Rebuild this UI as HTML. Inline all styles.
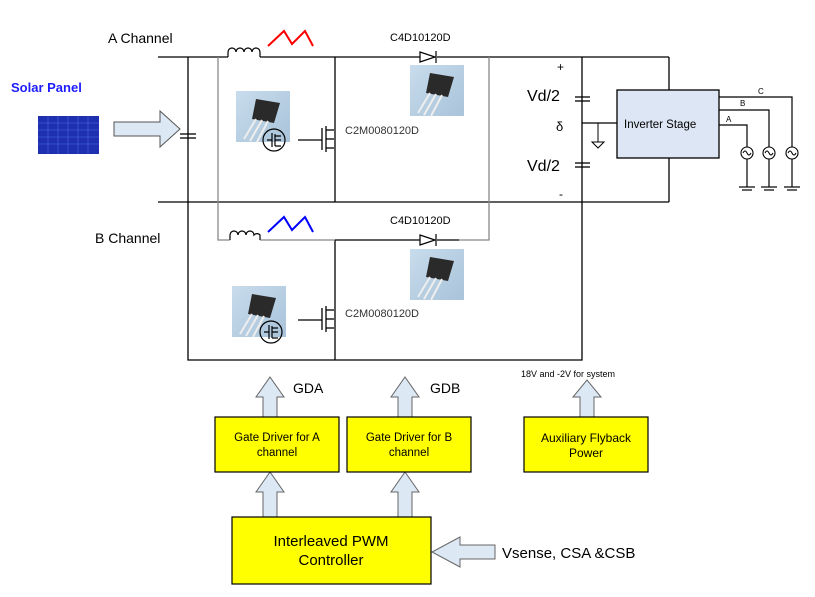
<!DOCTYPE html>
<html><head><meta charset="utf-8"><style>
html,body{margin:0;padding:0;background:#fff;}
svg{display:block;font-family:"Liberation Sans",Arial,sans-serif;}
</style></head><body>
<svg width="815" height="597" viewBox="0 0 815 597" xmlns="http://www.w3.org/2000/svg">
<defs>
<linearGradient id="ig" x1="0" y1="0" x2="1" y2="1"><stop offset="0" stop-color="#c8dcec"/><stop offset="1" stop-color="#a9c3da"/></linearGradient>
<g id="tr">
<rect x="0" y="0" width="54" height="51" fill="url(#ig)"/>
<polygon points="20,8 44,12 38,32 16,28" fill="#2a2a2a"/>
<line x1="20" y1="28" x2="8" y2="48" stroke="#eee" stroke-width="2"/>
<line x1="26" y1="29" x2="14" y2="50" stroke="#eee" stroke-width="2"/>
<line x1="32" y1="30" x2="21" y2="51" stroke="#eee" stroke-width="2"/>
</g>
</defs>
<g stroke="#000" stroke-width="1.3" fill="none">
<line x1="158" y1="57" x2="228" y2="57"/>
<line x1="260" y1="57" x2="420" y2="57"/>
<line x1="437" y1="57" x2="669" y2="57"/>
<line x1="158" y1="202" x2="669" y2="202"/>
<polyline points="188,57 188,360 582,360 582,57"/>
<line x1="335" y1="57" x2="335" y2="202"/>
<line x1="335" y1="240" x2="335" y2="360"/>
<line x1="669" y1="57" x2="669" y2="90"/>
<line x1="669" y1="158" x2="669" y2="202"/>
</g>
<g stroke="#888" stroke-width="1.3" fill="none">
<line x1="218" y1="57" x2="218" y2="202"/>
<polyline points="218,202 218,240 230,240"/>
<line x1="260" y1="240" x2="335" y2="240"/>
<polyline points="459,240 489,240 489,57"/>
</g>
<line x1="335" y1="240" x2="420" y2="240" stroke="#000" stroke-width="1.3"/>
<line x1="437" y1="240" x2="459" y2="240" stroke="#000" stroke-width="1.3"/>
<path d="M228,57 v-5 a4,4 0 0 1 8,0 a4,4 0 0 1 8,0 a4,4 0 0 1 8,0 a4,4 0 0 1 8,0 v5" stroke="#000" fill="none" stroke-width="1.2"/>
<path d="M230,240 v-5 a4,4 0 0 1 8,0 a4,4 0 0 1 8,0 a4,4 0 0 1 8,0 a4,4 0 0 1 6,0 v5" stroke="#000" fill="none" stroke-width="1.2"/>
<polyline points="268,46 284,31 292,44 305,31 313,46" stroke="#f00" stroke-width="2" fill="none"/>
<polyline points="268,232 284,217 292,230 305,217 313,232" stroke="#00f" stroke-width="2" fill="none"/>
<g stroke="#000" stroke-width="1.2" fill="#fff">
<polygon points="420,52 420,62 435,57"/><line x1="436" y1="51" x2="436" y2="63"/>
<polygon points="420,235 420,245 435,240"/><line x1="436" y1="234" x2="436" y2="246"/>
</g>
<g stroke="#000" stroke-width="1.3"><line x1="180" y1="134" x2="196" y2="134"/><line x1="180" y1="138" x2="196" y2="138"/>
<line x1="575" y1="97" x2="590" y2="97"/><line x1="575" y1="101" x2="590" y2="101"/>
<line x1="575" y1="163" x2="590" y2="163"/><line x1="575" y1="167" x2="590" y2="167"/></g>
<g stroke="#000" stroke-width="1.3" fill="none">
<line x1="298" y1="140" x2="322" y2="140"/><line x1="322" y1="128" x2="322" y2="150"/>
<line x1="326" y1="126" x2="326" y2="152"/><line x1="326" y1="130" x2="334" y2="130"/><line x1="326" y1="148" x2="334" y2="148"/><line x1="326" y1="139" x2="334" y2="139"/>
<line x1="298" y1="320" x2="322" y2="320"/><line x1="322" y1="308" x2="322" y2="330"/>
<line x1="326" y1="306" x2="326" y2="332"/><line x1="326" y1="310" x2="334" y2="310"/><line x1="326" y1="328" x2="334" y2="328"/><line x1="326" y1="319" x2="334" y2="319"/>
</g>
<use href="#tr" x="236" y="91"/>
<use href="#tr" x="410" y="65"/>
<use href="#tr" x="232" y="286"/>
<use href="#tr" x="410" y="249"/>
<g stroke="#000" stroke-width="1.2" fill="none">
<circle cx="274" cy="140" r="11"/><path d="M267,140 h5 M272,133 v14 M275,134 v12 M275,136 h6 M275,146 h6 M275,140 h6"/>
<circle cx="271" cy="332" r="11"/><path d="M264,332 h5 M269,325 v14 M272,326 v12 M272,328 h6 M272,338 h6 M272,332 h6"/>
</g>
<rect x="38" y="116" width="61" height="38" fill="#1e2fb0"/>
<g stroke="#4a6ae0" stroke-width="0.6">
<line x1="38" y1="123" x2="99" y2="123"/><line x1="38" y1="130" x2="99" y2="130"/><line x1="38" y1="137" x2="99" y2="137"/><line x1="38" y1="144" x2="99" y2="144"/>
<line x1="48" y1="116" x2="48" y2="154"/><line x1="58" y1="116" x2="58" y2="154"/><line x1="68" y1="116" x2="68" y2="154"/><line x1="78" y1="116" x2="78" y2="154"/><line x1="88" y1="116" x2="88" y2="154"/>
</g>
<polygon points="114,122 160,122 160,111 180,129 160,147 160,136 114,136" fill="#dce8f4" stroke="#555" stroke-width="1"/>
<line x1="582" y1="123" x2="617" y2="123" stroke="#000" stroke-width="1.3"/>
<line x1="598" y1="123" x2="598" y2="142" stroke="#000" stroke-width="1"/>
<polygon points="592,142 604,142 598,148" fill="none" stroke="#000" stroke-width="1"/>
<rect x="617" y="90" width="102" height="68" fill="#dde6f4" stroke="#000" stroke-width="1.3"/>
<g stroke="#000" stroke-width="1.2" fill="none">
<polyline points="719,97 792,97 792,187"/>
<polyline points="719,110 769,110 769,187"/>
<polyline points="719,125 747,125 747,187"/>
<line x1="739" y1="187" x2="755" y2="187"/><line x1="742" y1="190" x2="752" y2="190"/>
<line x1="761" y1="187" x2="777" y2="187"/><line x1="764" y1="190" x2="774" y2="190"/>
<line x1="784" y1="187" x2="800" y2="187"/><line x1="787" y1="190" x2="797" y2="190"/>
</g>
<g stroke="#000" stroke-width="1.1" fill="#fff">
<circle cx="747" cy="153" r="6"/><circle cx="769" cy="153" r="6"/><circle cx="792" cy="153" r="6"/>
</g>
<g stroke="#000" stroke-width="1" fill="none">
<path d="M743,153 q2,-4 4,0 q2,4 4,0"/><path d="M765,153 q2,-4 4,0 q2,4 4,0"/><path d="M788,153 q2,-4 4,0 q2,4 4,0"/>
</g>
<g fill="#000">
<text x="108" y="43" font-size="14">A Channel</text>
<text x="95" y="243" font-size="14">B Channel</text>
<text x="11" y="92" font-size="13" font-weight="bold" fill="#1c1cff">Solar Panel</text>
<text x="390" y="41" font-size="11">C4D10120D</text>
<text x="390" y="224" font-size="11">C4D10120D</text>
<text x="345" y="134" font-size="11" fill="#333">C2M0080120D</text>
<text x="345" y="317" font-size="11" fill="#333">C2M0080120D</text>
<text x="557" y="71" font-size="12">+</text>
<text x="527" y="101" font-size="16">Vd/2</text>
<text x="556" y="131" font-size="13">δ</text>
<text x="527" y="171" font-size="16">Vd/2</text>
<text x="559" y="198" font-size="12">-</text>
<text x="624" y="128" font-size="11.5">Inverter Stage</text>
<text x="758" y="94" font-size="8">C</text>
<text x="740" y="106" font-size="8">B</text>
<text x="726" y="122" font-size="8">A</text>
</g>
<g fill="#dce8f4" stroke="#666" stroke-width="1">
<polygon points="263,417 263,397 256,397 270,377 284,397 277,397 277,417"/>
<polygon points="398,417 398,397 391,397 405,377 419,397 412,397 412,417"/>
<polygon points="580,417 580,397 573,397 587,380 601,397 594,397 594,417"/>
<polygon points="263,517 263,492 256,492 270,472 284,492 277,492 277,517"/>
<polygon points="398,517 398,492 391,492 405,472 419,492 412,492 412,517"/>
<polygon points="495,545 460,545 460,537 432,552 460,567 460,559 495,559"/>
</g>
<g fill="#ffff00" stroke="#000" stroke-width="1.2">
<rect x="215" y="417" width="124" height="55"/>
<rect x="347" y="417" width="124" height="55"/>
<rect x="524" y="417" width="124" height="55"/>
<rect x="232" y="517" width="199" height="67"/>
</g>
<g fill="#000" text-anchor="middle" font-size="11.5">
<text x="277" y="441">Gate Driver for A</text><text x="277" y="456">channel</text>
<text x="409" y="441">Gate Driver for B</text><text x="409" y="456">channel</text>
<text x="586" y="442" font-size="12">Auxiliary Flyback</text><text x="586" y="457" font-size="12">Power</text>
<text x="331" y="546" font-size="15">Interleaved PWM</text><text x="331" y="565" font-size="15">Controller</text>
</g>
<g fill="#000">
<text x="293" y="393" font-size="14">GDA</text>
<text x="430" y="393" font-size="14">GDB</text>
<text x="521" y="377" font-size="9">18V and -2V for system</text>
<text x="502" y="558" font-size="15">Vsense, CSA &amp;CSB</text>
</g>
</svg>
</body></html>
